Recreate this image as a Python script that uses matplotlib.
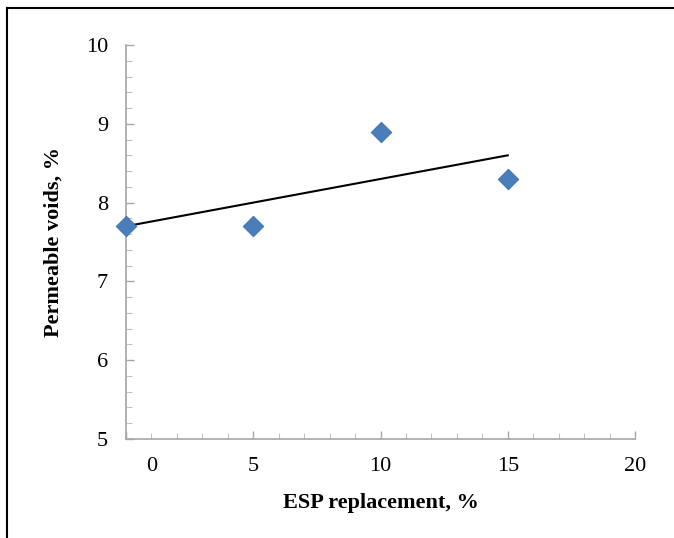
import numpy as np
import matplotlib
matplotlib.use("Agg")
import matplotlib.pyplot as plt
from matplotlib.ticker import MultipleLocator
from matplotlib.lines import Line2D
import matplotlib.transforms as mtransforms

esp_replacement = [0, 5, 10, 15]
permeable_voids = [7.7, 7.7, 8.9, 8.3]
x_tick_values = [5, 10, 15, 20]
x_tick_labels = ["5", "10", "15", "20"]
zero_label_pos = 1
y_ticks = [5, 6, 7, 8, 9, 10]

plt.rcParams['font.family'] = ['Liberation Serif', 'DejaVu Serif']
FS = 16
PAD = 13

fig = plt.figure(figsize=(6.74, 5.38), dpi=100)
ax = fig.add_axes([126/674, 1-439/538, (635-126)/674, (439-45)/538])

ax.scatter(esp_replacement, permeable_voids, marker='D', s=110,
           color='#4A7EBB', edgecolor='#3D6FA8', linewidth=0.6, zorder=3, clip_on=False)

coef = np.polyfit(esp_replacement, permeable_voids, 1)
xs = np.array([min(esp_replacement), max(esp_replacement)])
ax.plot(xs, np.polyval(coef, xs), color='black', lw=1.5, zorder=2)

ax.set_xlim(0, 20)
ax.set_ylim(5, 10)
ax.set_xticks([0] + x_tick_values)
ax.set_xticklabels([""] + x_tick_labels)
ax.set_yticks(y_ticks)
ax.xaxis.set_minor_locator(MultipleLocator(1))
ax.yaxis.set_minor_locator(MultipleLocator(0.2))

for s in ['top', 'right']:
    ax.spines[s].set_visible(False)
for s in ['left', 'bottom']:
    ax.spines[s].set_color('#A6A6A6')
    ax.spines[s].set_linewidth(1.2)

ax.tick_params(axis='both', which='major', direction='in', length=6, width=1,
               color='#A6A6A6', labelsize=FS, labelcolor='black')
ax.tick_params(axis='both', which='minor', direction='in', length=4, width=0.8,
               color='#C0C0C0')
ax.tick_params(axis='x', which='major', pad=PAD)
ax.tick_params(axis='y', which='major', pad=PAD)

trans = mtransforms.blended_transform_factory(ax.transData, ax.transAxes)
ax.annotate("0", xy=(zero_label_pos, 0), xycoords=trans, xytext=(0, -PAD),
            textcoords='offset points', fontsize=FS, ha='center', va='top')

ax.set_xlabel("ESP replacement, %", fontsize=FS, fontweight='bold', labelpad=12)
ax.set_ylabel("Permeable voids, %", fontsize=FS, fontweight='bold', labelpad=16)

fig.add_artist(Line2D([7/674, 7/674], [0, 1-8/538], color='black', lw=1.5, transform=fig.transFigure))
fig.add_artist(Line2D([7/674, 1], [1-8/538, 1-8/538], color='black', lw=1.5, transform=fig.transFigure))

fig.savefig("out.png", dpi=100)
